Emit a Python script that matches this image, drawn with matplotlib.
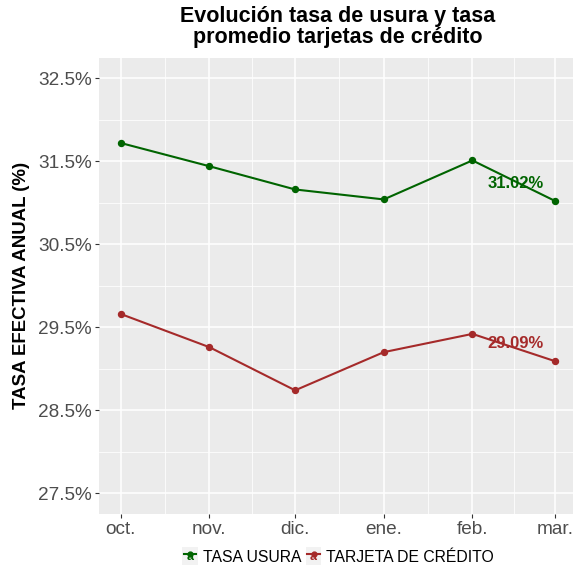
import matplotlib
matplotlib.use("Agg")
import matplotlib.pyplot as plt
import matplotlib.dates as mdates
from matplotlib.lines import Line2D
from matplotlib.patches import Rectangle
from matplotlib.text import Text
from matplotlib.legend_handler import HandlerBase
from matplotlib.ticker import FixedLocator, FuncFormatter
import datetime as dt

plt.rcParams['font.family'] = ['Liberation Sans', 'DejaVu Sans']

# ---- data ----
months = ["2019-10-01", "2019-11-01", "2019-12-01", "2020-01-01", "2020-02-01", "2020-03-01"]
month_labels = ["oct.", "nov.", "dic.", "ene.", "feb.", "mar."]
tasa_usura = [31.72, 31.44, 31.16, 31.04, 31.51, 31.02]
tarjeta_credito = [29.66, 29.26, 28.74, 29.20, 29.42, 29.09]
series_names = ["TASA USURA", "TARJETA DE CRÉDITO"]
series_colors = ["#006400", "#A52A2A"]
y_ticks = [27.5, 28.5, 29.5, 30.5, 31.5, 32.5]

dates = [dt.datetime.strptime(m, "%Y-%m-%d") for m in months]
xnum = mdates.date2num(dates)

W, H = 573, 569
fig = plt.figure(figsize=(W / 100, H / 100), dpi=100)
fig.patch.set_facecolor("white")

span = xnum[-1] - xnum[0]
x0 = xnum[0] - 0.05 * span
x1 = xnum[-1] + 0.05 * span
left_px, top_px, bottom_px = 99, 57.5, 514
px_per_day = (555.3 - 120.3) / span
right_px = 555.3 + (x1 - xnum[-1]) * px_per_day
ax = fig.add_axes([left_px / W, 1 - bottom_px / H, (right_px - left_px) / W, (bottom_px - top_px) / H])
ax.set_facecolor("#EBEBEB")
for s in ax.spines.values():
    s.set_visible(False)

ax.set_xlim(x0, x1)
ax.set_ylim(27.25, 32.75)

# grid
ax.xaxis.set_major_locator(FixedLocator(xnum))
ax.xaxis.set_minor_locator(FixedLocator([(a + b) / 2 for a, b in zip(xnum[:-1], xnum[1:])]))
ax.yaxis.set_major_locator(FixedLocator(y_ticks))
ax.yaxis.set_minor_locator(FixedLocator([t + 0.5 for t in y_ticks[:-1]]))
ax.grid(which="major", color="white", linewidth=1.1)
ax.grid(which="minor", color="white", linewidth=0.55)
ax.set_axisbelow(True)

ax.set_xticklabels(month_labels)
ax.yaxis.set_major_formatter(FuncFormatter(lambda v, p: f"{v:.1f}%"))
ax.tick_params(axis="both", which="major", length=3, width=0.8, color="#333333",
               labelsize=13.7, labelcolor="#4D4D4D", pad=2)
ax.tick_params(axis="both", which="minor", length=0)

lines = []
for vals, col in zip([tasa_usura, tarjeta_credito], series_colors):
    l, = ax.plot(xnum, vals, color=col, linewidth=1.5, marker="o", markersize=4.3, zorder=3)
    lines.append(l)
    ax.text(xnum[-1] - 14, vals[-1] + 0.215, f"{vals[-1]:.2f}%", color=col,
            fontsize=12, fontweight="bold", ha="center", va="center", zorder=4)

ax.set_ylabel("TASA EFECTIVA ANUAL (%)", fontsize=13.4, fontweight="bold", labelpad=6)

fig.text(338 / W, 1 - 6 / H, "Evolución tasa de usura y tasa\npromedio tarjetas de crédito",
         ha="center", va="top", fontsize=15.5, fontweight="bold", linespacing=1.0)


class KeyHandler(HandlerBase):
    def create_artists(self, legend, orig_handle, xdescent, ydescent, width, height, fontsize, trans):
        col = orig_handle.get_color()
        x0_, y0_ = -xdescent, -ydescent
        rect = Rectangle((x0_, y0_ - 2), width, height + 4, facecolor="#F2F2F2", edgecolor="none", transform=trans)
        yc = y0_ + height / 2 + 1.5
        tx = Text(x0_ + width / 2, yc - 2.5, "a", color=col, fontsize=9, fontweight="bold",
                  ha="center", va="center", transform=trans)
        ln = Line2D([x0_ + 1, x0_ + width - 1], [yc, yc], color=col, lw=1.5, transform=trans)
        pt = Line2D([x0_ + width / 2], [yc], marker="o", markersize=3.5, color=col, transform=trans)
        return [rect, tx, ln, pt]


leg = fig.legend(lines, series_names, loc="center", bbox_to_anchor=(338 / W, 1 - 557 / H),
                 ncol=2, frameon=False, fontsize=11.3, handler_map={Line2D: KeyHandler()},
                 handlelength=1.0, handleheight=0.9, handletextpad=0.3, columnspacing=0.3,
                 borderaxespad=0)

fig.savefig("out.png", dpi=100)
